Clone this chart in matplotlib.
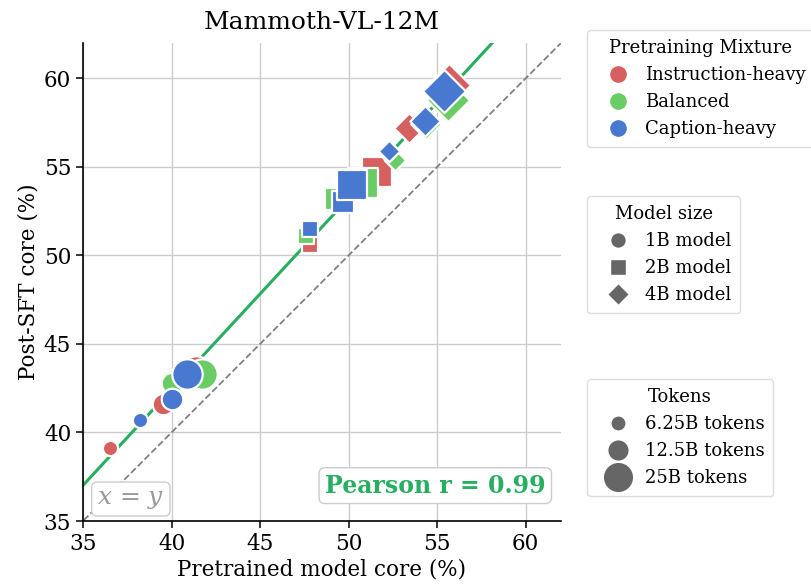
import numpy as np
import matplotlib
matplotlib.use("Agg")
import matplotlib.pyplot as plt
from matplotlib.lines import Line2D

plt.rcParams['font.family'] = ['DejaVu Serif']
plt.rcParams['mathtext.fontset'] = 'dejavuserif'

# --- data: (pretrained core, post-SFT core) per mixture / model / tokens ---
mixtures = ["Instruction-heavy", "Balanced", "Caption-heavy"]
models = ["1B model", "2B model", "4B model"]
tokens = ["6.25B tokens", "12.5B tokens", "25B tokens"]

# order inside each list: 1B(6.25,12.5,25), 2B(...), 4B(...)
instr_x = [36.5, 39.5, 41.4, 47.8, 49.9, 51.6, 52.3, 53.4, 55.7]
instr_y = [39.1, 41.6, 43.5, 50.6, 53.7, 54.7, 55.8, 57.2, 59.6]
bal_x = [39.9, 40.0, 41.7, 47.6, 49.3, 50.8, 52.6, 54.4, 55.6]
bal_y = [41.9, 42.8, 43.3, 51.1, 53.2, 54.1, 55.4, 57.4, 58.8]
cap_x = [38.2, 40.0, 40.9, 47.8, 49.7, 50.2, 52.3, 54.3, 55.4]
cap_y = [40.7, 41.9, 43.3, 51.5, 53.0, 54.0, 55.9, 57.6, 59.3]

# linear fit over all runs
fit_slope = 1.081
fit_intercept = -0.82
pearson_r = 0.99

colors = ["#d65f5f", "#6acc64", "#4878d0"]
markers = ["o", "s", "D"]
sizes = [120, 240, 480]
line_green = "#27ae60"

fig = plt.figure(figsize=(8.11, 5.87), dpi=100)
ax = fig.add_axes([83/811, 1-521/587, (561-83)/811, (521-43)/587])

xx = np.array([30, 70])
ax.plot(xx, fit_slope*xx + fit_intercept, color=line_green, lw=2.2, zorder=2)
ax.plot(xx, xx, color="gray", ls="--", lw=1.3, zorder=2)

for xs, ys, c in zip([instr_x, bal_x, cap_x], [instr_y, bal_y, cap_y], colors):
    for i in range(9):
        m = markers[i // 3]
        s = sizes[i % 3]
        ax.scatter(xs[i], ys[i], s=s, marker=m, color=c, edgecolor="white",
                   linewidth=1.6, zorder=3)

ax.set_xlim(35, 62)
ax.set_ylim(35, 62)
ax.set_xticks([35, 40, 45, 50, 55, 60])
ax.set_yticks([35, 40, 45, 50, 55, 60])
ax.tick_params(labelsize=15.5, length=5, width=1.1)
ax.grid(True, color="#cccccc", lw=1)
ax.set_axisbelow(True)
for sp in ["top", "right"]:
    ax.spines[sp].set_visible(False)
for sp in ["left", "bottom"]:
    ax.spines[sp].set_linewidth(1.2)
ax.set_xlabel("Pretrained model core (%)", fontsize=15.5, labelpad=3)
ax.set_ylabel("Post-SFT core (%)", fontsize=15.5, labelpad=3)
ax.set_title("Mammoth-VL-12M", fontsize=18, pad=10)

ax.text(0.737, 0.074, f"Pearson r = {pearson_r:.2f}", transform=ax.transAxes,
        ha="center", va="center", fontsize=17, fontweight="bold", color=line_green,
        bbox=dict(boxstyle="round,pad=0.25", fc="white", ec="#cccccc"))
ax.text(0.10, 0.046, "$x$ = $y$", transform=ax.transAxes, ha="center", va="center",
        fontsize=18, color="#999999",
        bbox=dict(boxstyle="round,pad=0.22", fc="white", ec="#cccccc"))

grey = "#666666"
h1 = [Line2D([], [], ls="", marker="o", ms=13, color=c, mec="white") for c in colors]
h2 = [Line2D([], [], ls="", marker=m, ms=11.3, color=grey, mec="white") for m in markers]
h3 = [Line2D([], [], ls="", marker="o", ms=np.sqrt(s), color=grey, mec="white") for s in sizes]

leg_kw = dict(fontsize=13, title_fontsize=13, frameon=True, edgecolor="#dddddd",
              framealpha=1, loc="upper left", borderaxespad=0, borderpad=0.5,
              handlelength=2.4, handletextpad=0.3, labelspacing=0.5)
fig.legend(h1, mixtures, title="Pretraining Mixture",
           bbox_to_anchor=(587/811, 1-30/587), **leg_kw)
fig.legend(h2, models, title="Model size",
           bbox_to_anchor=(587/811, 1-196/587), **leg_kw)
fig.legend(h3, tokens, title="Tokens",
           bbox_to_anchor=(587/811, 1-379/587), **leg_kw)

fig.savefig("out.png", dpi=100)
